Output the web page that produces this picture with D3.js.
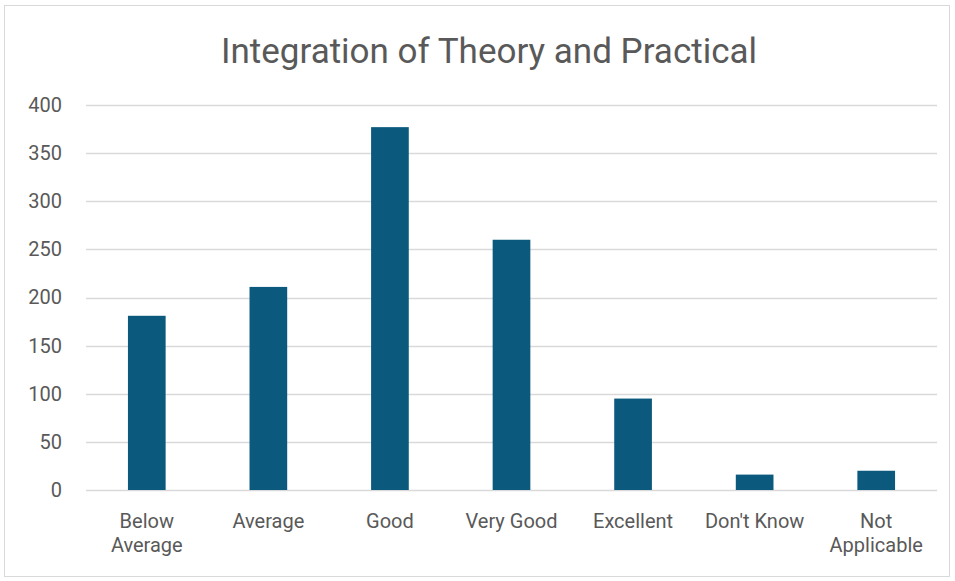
<!DOCTYPE html>
<html>
<head>
<meta charset="utf-8">
<script src="https://cdn.jsdelivr.net/npm/d3@7"></script>
<style>
  body { margin: 0; background: #fff; }
  svg text { font-family: "Roboto", "Liberation Sans", sans-serif; fill: #595959; }
</style>
</head>
<body>
<svg id="chart" width="955" height="581"></svg>
<script>
var categories = [["Below", "Average"], ["Average"], ["Good"], ["Very Good"], ["Excellent"], ["Don't Know"], ["Not", "Applicable"]];
var values     = [181, 211, 377, 260, 95, 16, 20];
var yTicks     = [0, 50, 100, 150, 200, 250, 300, 350, 400];
var title      = "Integration of Theory and Practical";

var svg = d3.select("#chart");
var margin = { top: 105, right: 18, bottom: 91, left: 86 };
var width  = 955 - margin.left - margin.right;
var height = 581 - margin.top - margin.bottom;

// chart frame
svg.append("rect")
   .attr("x", 4.5).attr("y", 5.5).attr("width", 945).attr("height", 571)
   .attr("fill", "#fff").attr("stroke", "#d9d9d9");

svg.append("text")
   .attr("x", 489).attr("y", 63)
   .attr("text-anchor", "middle")
   .style("font-size", "35px")
   .text(title);

var g = svg.append("g").attr("transform", "translate(" + margin.left + "," + margin.top + ")");

var x = d3.scaleBand()
   .domain(d3.range(categories.length))
   .range([0, width])
   .paddingInner(0.69).paddingOuter(0.345);

var y = d3.scaleLinear().domain([0, 400]).range([height, 0]);

// gridlines
g.append("g")
   .selectAll("line")
   .data(yTicks)
   .enter().append("line")
   .attr("x1", 0).attr("x2", width)
   .attr("y1", function(d) { return Math.round(y(d)) + 0.5; })
   .attr("y2", function(d) { return Math.round(y(d)) + 0.5; })
   .attr("stroke", "#d9d9d9").attr("stroke-width", 1.5);

// y axis labels
var yAxis = g.append("g").call(d3.axisLeft(y).tickValues(yTicks).tickSize(0).tickPadding(24));
yAxis.select(".domain").remove();
yAxis.selectAll("text").style("font-size", "20px").attr("fill", "#595959");

// bars
g.selectAll("rect.bar")
   .data(values)
   .enter().append("rect")
   .attr("class", "bar")
   .attr("x", function(d, i) { return x(i); })
   .attr("width", x.bandwidth())
   .attr("y", function(d) { return y(d); })
   .attr("height", function(d) { return height - y(d); })
   .attr("fill", "#0B5A7E");

// x labels
var lab = g.append("g").selectAll("text")
   .data(categories)
   .enter().append("text")
   .attr("text-anchor", "middle")
   .attr("transform", function(d, i) { return "translate(" + (x(i) + x.bandwidth() / 2) + "," + (height + 38) + ")"; })
   .style("font-size", "20px");
lab.selectAll("tspan")
   .data(function(d) { return d; })
   .enter().append("tspan")
   .attr("x", 0)
   .attr("y", function(d, i) { return i * 24; })
   .text(function(d) { return d; });
</script>
</body>
</html>
